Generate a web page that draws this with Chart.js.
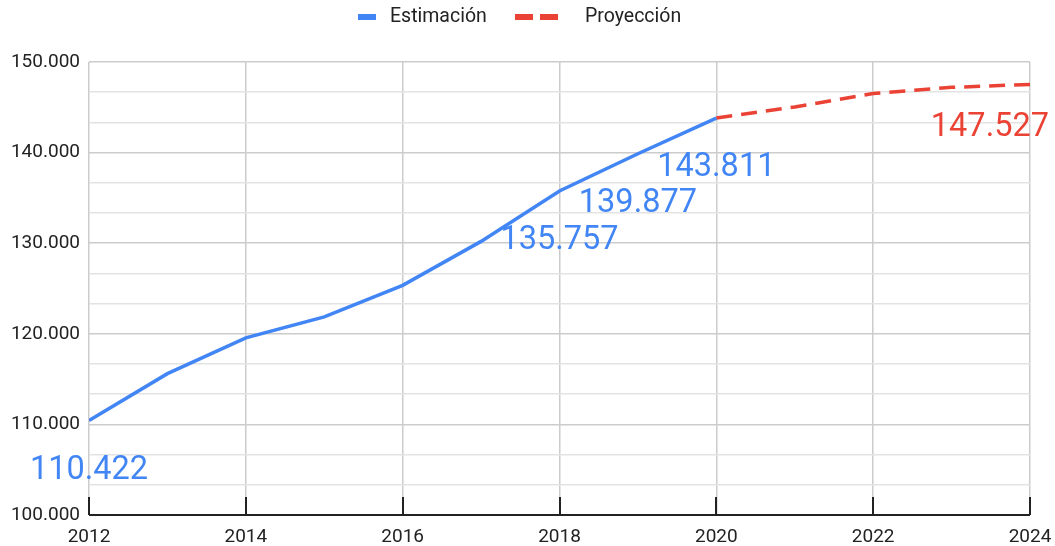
<!DOCTYPE html>
<html>
<head>
<meta charset="utf-8">
<script src="https://cdn.jsdelivr.net/npm/chart.js@4/dist/chart.umd.min.js"></script>
<style>
  body { margin: 0; background: #fff; }
  #wrap { width: 1055px; height: 546px; }
</style>
</head>
<body>
<div id="wrap"><canvas id="lineCanvas"></canvas></div>
<script>
// data
const years = [2012, 2013, 2014, 2015, 2016, 2017, 2018, 2019, 2020, 2021, 2022, 2023, 2024];
const estimacion = [110422, 115600, 119550, 121870, 125350, 130200, 135757, 139877, 143811, null, null, null, null];
const proyeccion = [null, null, null, null, null, null, null, null, 143811, 145040, 146530, 147200, 147527];
const estLabeled = [2012, 2018, 2019, 2020];
const proLabeled = [2024];
const xTicks = [2012, 2014, 2016, 2018, 2020, 2022, 2024];

const BLUE = "#4285f4";
const RED = "#ea4335";

function toPoints(vals) {
    return years.map((y, i) => ({ x: y, y: vals[i] })).filter(p => p.y !== null);
}

function fmt(v) {
    return Math.round(v).toString().replace(/\B(?=(\d{3})+(?!\d))/g, ".");
}

// legend, value labels, black x axis with inner ticks
const extras = {
    id: "extras",
    afterDraw(chart) {
        const ctx = chart.ctx;
        const xs = chart.scales.x, ys = chart.scales.y;
        const area = chart.chartArea;
        ctx.save();
        ctx.strokeStyle = "#222";
        ctx.lineWidth = 2;
        ctx.beginPath();
        ctx.moveTo(area.left, area.bottom);
        ctx.lineTo(area.right, area.bottom);
        xTicks.forEach(t => {
            const px = Math.round(xs.getPixelForValue(t));
            ctx.moveTo(px, area.bottom);
            ctx.lineTo(px, area.bottom - 18);
        });
        ctx.stroke();

        // legend
        ctx.lineWidth = 6;
        ctx.strokeStyle = BLUE;
        ctx.beginPath(); ctx.moveTo(358, 17); ctx.lineTo(376, 17); ctx.stroke();
        ctx.strokeStyle = RED;
        ctx.beginPath(); ctx.moveTo(515, 17); ctx.lineTo(533, 17);
        ctx.moveTo(540, 17); ctx.lineTo(558, 17); ctx.stroke();
        ctx.font = "19.5px Roboto";
        ctx.fillStyle = "#222";
        ctx.textAlign = "left";
        ctx.textBaseline = "middle";
        ctx.fillText(chart.data.datasets[0].label, 390, 17);
        ctx.fillText(chart.data.datasets[1].label, 585, 17);

        ctx.font = "32.5px Roboto";
        ctx.textAlign = "center";
        const drawLabels = (list, vals, color, off) => {
            ctx.fillStyle = color;
            list.forEach(yr => {
                const v = vals[years.indexOf(yr)];
                let px = xs.getPixelForValue(yr);
                const py = ys.getPixelForValue(v) + off;
                const w = ctx.measureText(fmt(v)).width;
                if (px + w / 2 > chart.width - 6) px = chart.width - 6 - w / 2;
                ctx.fillText(fmt(v), px, py);
            });
        };
        drawLabels(estLabeled, estimacion, BLUE, 50);
        drawLabels(proLabeled, proyeccion, RED, 43);
        ctx.restore();
    }
};

window.onload = function () {
    var ctx = document.getElementById("lineCanvas").getContext("2d");
    window.myLine = new Chart(ctx, {
        type: "line",
        data: {
            datasets: [{
                label: "Estimación",
                data: toPoints(estimacion),
                borderColor: BLUE,
                backgroundColor: BLUE,
                borderWidth: 3.5,
                pointRadius: 0,
                tension: 0
            }, {
                label: "Proyección",
                data: toPoints(proyeccion),
                borderColor: RED,
                backgroundColor: RED,
                borderWidth: 3.5,
                borderDash: [16, 9],
                pointRadius: 0,
                tension: 0
            }]
        },
        options: {
            responsive: true,
            maintainAspectRatio: false,
            animation: false,
            layout: { padding: { top: 62, right: 25, bottom: 0, left: 0 } },
            plugins: {
                tooltip: { enabled: false },
                legend: { display: false }
            },
            scales: {
                x: {
                    type: "linear",
                    min: 2012,
                    max: 2024,
                    border: { display: false },
                    grid: { color: "#cccccc", lineWidth: 1.5, drawTicks: false },
                    afterBuildTicks(s) { s.ticks = xTicks.map(v => ({ value: v })); },
                    ticks: {
                        font: { family: "Roboto", size: 19 },
                        color: "#222",
                        padding: 11,
                        maxRotation: 0,
                        callback: v => String(v)
                    },
                    afterFit(s) {
                        s.height = 31;
                        s.paddingLeft = 0;
                        s.paddingRight = 0;
                    }
                },
                y: {
                    min: 100000,
                    max: 150000,
                    border: { display: false },
                    grid: {
                        drawTicks: false,
                        lineWidth: 1.5,
                        color: c => (Math.round(c.tick.value) % 10000 === 0 ? "#cccccc" : "#e3e3e3")
                    },
                    afterBuildTicks(s) {
                        const t = [];
                        for (let i = 0; i <= 15; i++) t.push({ value: 100000 + i * 10000 / 3 });
                        s.ticks = t;
                    },
                    ticks: {
                        font: { family: "Roboto", size: 19 },
                        color: "#222",
                        padding: 9,
                        autoSkip: false,
                        callback: v => (Math.round(v) % 10000 === 0 ? fmt(v) : "")
                    },
                    afterFit(s) { s.width = 89; }
                }
            }
        },
        plugins: [extras]
    });
};
</script>
</body>
</html>
